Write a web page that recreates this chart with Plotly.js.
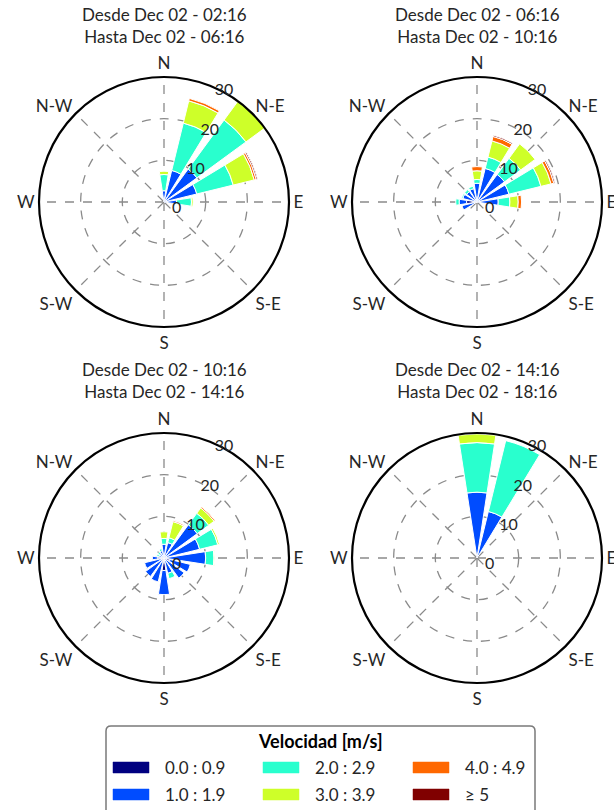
<!DOCTYPE html>
<html><head><meta charset="utf-8">
<script src="https://cdn.plot.ly/plotly-3.0.1.min.js"></script>
<style>html,body{margin:0;padding:0;background:#fff}#chart{width:614px;height:810px}</style>
</head><body><div id="chart"></div>
<script>
// ---- data ----
const directions = [0,22.5,45,67.5,90,112.5,135,157.5,180,202.5,225,247.5,270,292.5,315,337.5];
const compassTicks = [0,45,90,135,180,225,270,315];
const compassLabels = ['N','N-E','E','S-E','S','S-W','W','N-W'];
const radialTicks = [0,10,20,30];
const speedBins = ['0.0 : 0.9','1.0 : 1.9','2.0 : 2.9','3.0 : 3.9','4.0 : 4.9','\u2265 5'];
const binColors = ['#000080','#004cff','#29ffce','#ceff29','#ff6800','#800000'];
const panelTitles = [
  'Desde Dec 02 - 02:16<br>Hasta Dec 02 - 06:16',
  'Desde Dec 02 - 06:16<br>Hasta Dec 02 - 10:16',
  'Desde Dec 02 - 10:16<br>Hasta Dec 02 - 14:16',
  'Desde Dec 02 - 14:16<br>Hasta Dec 02 - 18:16'
];
const legendTitle = 'Velocidad [m/s]';

// frequency (%) per direction, one array per speed bin
//            N    NNE   NE   ENE   E   ESE  SE  SSE  S   SSW  SW  WSW  W   WNW  NW  NNW
const p1_bin0 = [0.2, 0.3, 0.3, 0.3, 0.2, 0, 0, 0, 0, 0, 0, 0, 0, 0, 0, 0];
const p1_bin1 = [2.5, 7.5, 9.5, 7.8, 2.8, 0, 0, 0, 0, 0, 0, 0, 0, 0, 0, 0];
const p1_bin2 = [3.9, 11.7, 14.6, 9.0, 3.6, 0, 0, 0, 0, 0, 0, 0, 0, 0, 0, 0];
const p1_bin3 = [0.8, 5.5, 5.6, 5.2, 0.4, 0, 0, 0, 0, 0, 0, 0, 0, 0, 0, 0];
const p1_bin4 = [0, 0.6, 0, 0.5, 0, 0, 0, 0, 0, 0, 0, 0, 0, 0, 0, 0];
const p1_bin5 = [0, 0, 0, 0.3, 0, 0, 0, 0, 0, 0, 0, 0, 0, 0, 0, 0];

const p2_bin0 = [0.3, 0.3, 0.3, 0.3, 0.3, 0, 0, 0, 0, 0, 0, 0.5, 2.5, 0.5, 0.3, 0.3];
const p2_bin1 = [4.2, 8.0, 7.9, 7.6, 4.8, 0, 0, 0, 0, 0, 0, 3.2, 1.8, 3.0, 2.8, 3.0];
const p2_bin2 = [0.9, 2.8, 4.8, 7.9, 2.8, 0, 0, 0, 0, 0, 0, 0, 0.8, 0.3, 0.6, 0.6];
const p2_bin3 = [2.1, 4.0, 4.3, 2.5, 2.0, 0, 0, 0, 0, 0, 0, 0, 0, 0, 0, 0];
const p2_bin4 = [1.0, 1.1, 0, 0.7, 0.8, 0, 0, 0, 0, 0, 0, 0, 0, 0, 0, 0];
const p2_bin5 = [0, 0.3, 0, 0.3, 0, 0, 0, 0, 0, 0, 0, 0, 0, 0, 0, 0];

const p3_bin0 = [0.3, 0.3, 0.3, 0.3, 0.8, 1.5, 0.5, 0.5, 3.0, 1.0, 0.8, 0.8, 1.5, 0.3, 0.3, 0.3];
const p3_bin1 = [3.0, 3.5, 9.6, 8.5, 9.2, 5.0, 5.5, 3.3, 5.8, 4.9, 4.7, 4.0, 1.3, 1.0, 1.0, 1.5];
const p3_bin2 = [1.4, 1.2, 3.4, 4.5, 2.0, 0, 0, 1.3, 0, 0, 0, 0, 0, 0.5, 0.5, 0.5];
const p3_bin3 = [1.6, 4.0, 1.6, 0.4, 0.2, 0, 0, 0, 0, 0, 0, 0, 0, 0, 0, 0];
const p3_bin4 = [0, 0.3, 0.3, 0, 0, 0, 0, 0, 0, 0, 0, 0, 0, 0, 0, 0];
const p3_bin5 = [0, 0.1, 0, 0, 0, 0, 0, 0, 0, 0, 0, 0, 0, 0, 0, 0];

const p4_bin0 = [0.3, 0.3, 0, 0, 0, 0, 0, 0, 0, 0, 0, 0, 0, 0, 0, 0];
const p4_bin1 = [15.5, 11.2, 0, 0, 0, 0, 0, 0, 0, 0, 0, 0, 0, 0, 0, 0];
const p4_bin2 = [11.9, 17.5, 0, 0, 0, 0, 0, 0, 0, 0, 0, 0, 0, 0, 0, 0];
const p4_bin3 = [2.1, 0, 0, 0, 0, 0, 0, 0, 0, 0, 0, 0, 0, 0, 0, 0];
const p4_bin4 = [0, 0, 0, 0, 0, 0, 0, 0, 0, 0, 0, 0, 0, 0, 0, 0];
const p4_bin5 = [0, 0, 0, 0, 0, 0, 0, 0, 0, 0, 0, 0, 0, 0, 0, 0];

const panels = [
  [p1_bin0, p1_bin1, p1_bin2, p1_bin3, p1_bin4, p1_bin5],
  [p2_bin0, p2_bin1, p2_bin2, p2_bin3, p2_bin4, p2_bin5],
  [p3_bin0, p3_bin1, p3_bin2, p3_bin3, p3_bin4, p3_bin5],
  [p4_bin0, p4_bin1, p4_bin2, p4_bin3, p4_bin4, p4_bin5]
];

// ---- layout helpers ----
const W = 614, H = 810;
const px = x => x / W;
const py = y => 1 - y / H;
const FONT = 'Lato, "Open Sans", sans-serif';
const R = 125;
const RAD_ANGLE = 70;
const centers = [[164, 202], [477, 202], [164, 558], [477, 558]];

const traces = [];
panels.forEach((bins, i) => {
  const sp = i === 0 ? 'polar' : 'polar' + (i + 1);
  bins.forEach((vals, b) => {
    traces.push({
      type: 'barpolar',
      subplot: sp,
      r: vals,
      theta: directions,
      width: 17.5,
      name: speedBins[b],
      showlegend: false,
      hovertemplate: '%{theta}°: %{r}<extra>' + speedBins[b] + '</extra>',
      marker: { color: binColors[b], line: { color: 'white', width: 1 } }
    });
  });
});

function polarCfg(c) {
  return {
    domain: { x: [px(c[0] - R), px(c[0] + R)], y: [py(c[1] + R), py(c[1] - R)] },
    bgcolor: 'white',
    barmode: 'stack',
    radialaxis: {
      range: [0, 30], tickmode: 'array', tickvals: radialTicks,
      showline: false, ticks: '', angle: RAD_ANGLE, side: 'clockwise', tickangle: RAD_ANGLE,
      tickfont: { family: FONT, size: 16, color: '#262626' },
      gridcolor: '#8a8a8a', griddash: 'dash', gridwidth: 1.3
    },
    angularaxis: {
      rotation: 90, direction: 'clockwise', tickmode: 'array',
      tickvals: compassTicks, ticktext: compassLabels,
      showline: true, linecolor: 'black', linewidth: 2.2, ticks: '',
      tickfont: { family: FONT, size: 17, color: '#262626' },
      gridcolor: '#8a8a8a', griddash: 'dash', gridwidth: 1.3
    }
  };
}

const annotations = panelTitles.map((t, i) => ({
  text: t, xref: 'paper', yref: 'paper',
  x: px(centers[i][0]), y: py(i < 2 ? 25 : 381),
  xanchor: 'center', yanchor: 'middle', showarrow: false,
  font: { family: FONT, size: 17, color: '#262626' }
}));

// legend box (custom, matplotlib-like)
const shapes = [];
const lx0 = px(106), lx1 = px(535), lyt = py(726), lyb = py(830);
const rx = px(5), ry = 5 / H;
shapes.push({
  type: 'path', xref: 'paper', yref: 'paper',
  path: `M ${lx0},${lyb} L ${lx0},${lyt - ry} Q ${lx0},${lyt} ${lx0 + rx},${lyt} L ${lx1 - rx},${lyt} Q ${lx1},${lyt} ${lx1},${lyt - ry} L ${lx1},${lyb} Z`,
  line: { color: '#7a7a7a', width: 1.5 }, fillcolor: 'white', layer: 'below'
});
annotations.push({
  text: '<b>' + legendTitle + '</b>', xref: 'paper', yref: 'paper',
  x: px(320), y: py(741), xanchor: 'center', yanchor: 'middle', showarrow: false,
  font: { family: FONT, size: 18, color: '#000' }
});
const colX = [113, 263, 413], rowY = [767.5, 794.5];
speedBins.forEach((lab, b) => {
  const c = Math.floor(b / 2), r = b % 2;
  shapes.push({
    type: 'rect', xref: 'paper', yref: 'paper',
    x0: px(colX[c]), x1: px(colX[c] + 36), y0: py(rowY[r] + 5.5), y1: py(rowY[r] - 5.5),
    fillcolor: binColors[b], line: { color: binColors[b], width: 0.5 }
  });
  annotations.push({
    text: lab, xref: 'paper', yref: 'paper',
    x: px(colX[c] + 50), y: py(rowY[r]), xanchor: 'left', yanchor: 'middle', showarrow: false,
    font: { family: FONT, size: 17, color: '#262626' }
  });
});

const layout = {
  width: W, height: H, autosize: false,
  margin: { l: 0, r: 0, t: 0, b: 0 },
  paper_bgcolor: 'white',
  showlegend: false,
  font: { family: FONT },
  polar: polarCfg(centers[0]),
  polar2: polarCfg(centers[1]),
  polar3: polarCfg(centers[2]),
  polar4: polarCfg(centers[3]),
  annotations, shapes
};

Plotly.newPlot('chart', traces, layout, { displayModeBar: false, staticPlot: true });
</script>
</body></html>
